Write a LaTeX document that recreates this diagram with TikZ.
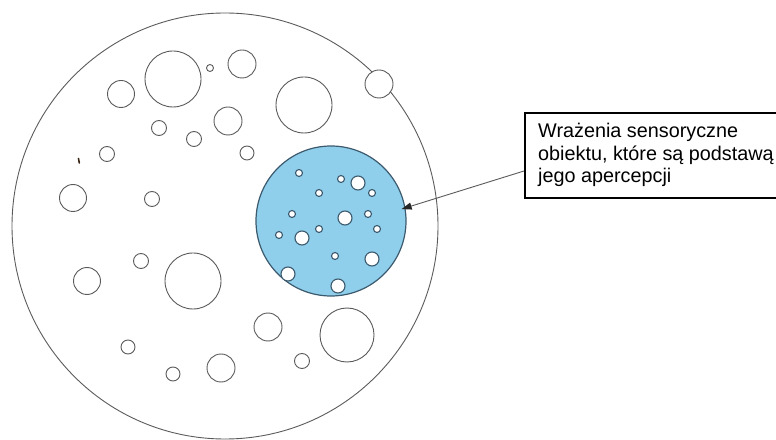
\documentclass[tikz,border=0pt]{standalone}
\usepackage{fontspec}
\setmainfont{Liberation Sans}
\usetikzlibrary{arrows.meta}
\definecolor{cline}{HTML}{5A5A5A}
\definecolor{skyfill}{HTML}{8FCFEC}
\definecolor{skyedge}{HTML}{3C5A6E}
\begin{document}
\begin{tikzpicture}[x=1bp,y=-1bp,
  ring/.style={draw=cline, line width=0.9bp},
  wring/.style={draw=cline, fill=white, line width=0.9bp},
  dot/.style={draw=skyedge, fill=white, line width=1.1bp},
  selcircle/.style={circle, draw=skyedge, fill=skyfill, line width=1.2bp, minimum size=150bp, inner sep=0pt},
  labelbox/.style={draw=black, line width=2bp, minimum width=275bp, minimum height=85bp, inner sep=0pt, anchor=north west},
  labeltext/.style={anchor=base west, inner sep=0pt, font=\fontsize{19.8bp}{22.5bp}\selectfont},
  pointer/.style={draw=cline, line width=0.9bp, -{Triangle[length=10bp,width=7bp,color=black!85]}, shorten >=-4bp}
]
\useasboundingbox (0,0) rectangle (776,440);
% outer circle
\draw[ring] (225,226) circle[radius=213bp];
% circle sitting on the rim
\draw[wring] (379,84) circle[radius=14bp];
% circles in the outer field
\draw[ring] (173,79) circle[radius=28bp];
\draw[ring] (210,68) circle[radius=3.5bp];
\draw[ring] (242,64) circle[radius=14bp];
\draw[ring] (121,94) circle[radius=13.5bp];
\draw[ring] (304,105) circle[radius=28bp];
\draw[ring] (228,121) circle[radius=14bp];
\draw[ring] (159,128) circle[radius=7.5bp];
\draw[ring] (194,139) circle[radius=7.5bp];
\draw[ring] (247,153) circle[radius=7bp];
\draw[ring] (107,154) circle[radius=7.5bp];
\draw[ring] (73,198) circle[radius=13.5bp];
\draw[ring] (152,199) circle[radius=7.5bp];
\draw[ring] (87,281) circle[radius=13.5bp];
\draw[ring] (141,261) circle[radius=7.5bp];
\draw[ring] (193,281) circle[radius=28bp];
\draw[ring] (128,347) circle[radius=7bp];
\draw[ring] (173,374) circle[radius=7bp];
\draw[ring] (221,368) circle[radius=14bp];
\draw[ring] (268,327) circle[radius=14bp];
\draw[ring] (302,361) circle[radius=7.5bp];
\draw[ring] (347,335) circle[radius=27bp];
% small speck
\draw[draw=black!70!brown, line width=1.6bp, line cap=round] (78.5,158.5) -- (79.3,163);
% highlighted region
\node[selcircle] (sel) at (331,221) {};
\draw[dot] (299,173) circle[radius=3.5bp];
\draw[dot] (341,179) circle[radius=3.5bp];
\draw[dot] (358,183) circle[radius=7bp];
\draw[dot] (372,193) circle[radius=3.5bp];
\draw[dot] (319,193) circle[radius=3.5bp];
\draw[dot] (292,214) circle[radius=3.5bp];
\draw[dot] (345,218) circle[radius=7bp];
\draw[dot] (368,214) circle[radius=3.5bp];
\draw[dot] (319,229) circle[radius=3.5bp];
\draw[dot] (377,229) circle[radius=3.5bp];
\draw[dot] (279,235) circle[radius=3.5bp];
\draw[dot] (302,238) circle[radius=7bp];
\draw[dot] (335,256) circle[radius=3.5bp];
\draw[dot] (372,259) circle[radius=7bp];
\draw[dot] (288,274) circle[radius=7bp];
\draw[dot] (338,286) circle[radius=7bp];
% label
\node[labelbox] (lbl) at (524,112) {};
\node[labeltext] (lbltxt) at (538,138) {\parbox[t]{250bp}{Wrażenia sensoryczne\\obiektu, które są podstawą\\jego apercepcji}};
\draw[pointer] ([yshift=28bp]lbl.south west) -- (sel.10);
\end{tikzpicture}
\end{document}
